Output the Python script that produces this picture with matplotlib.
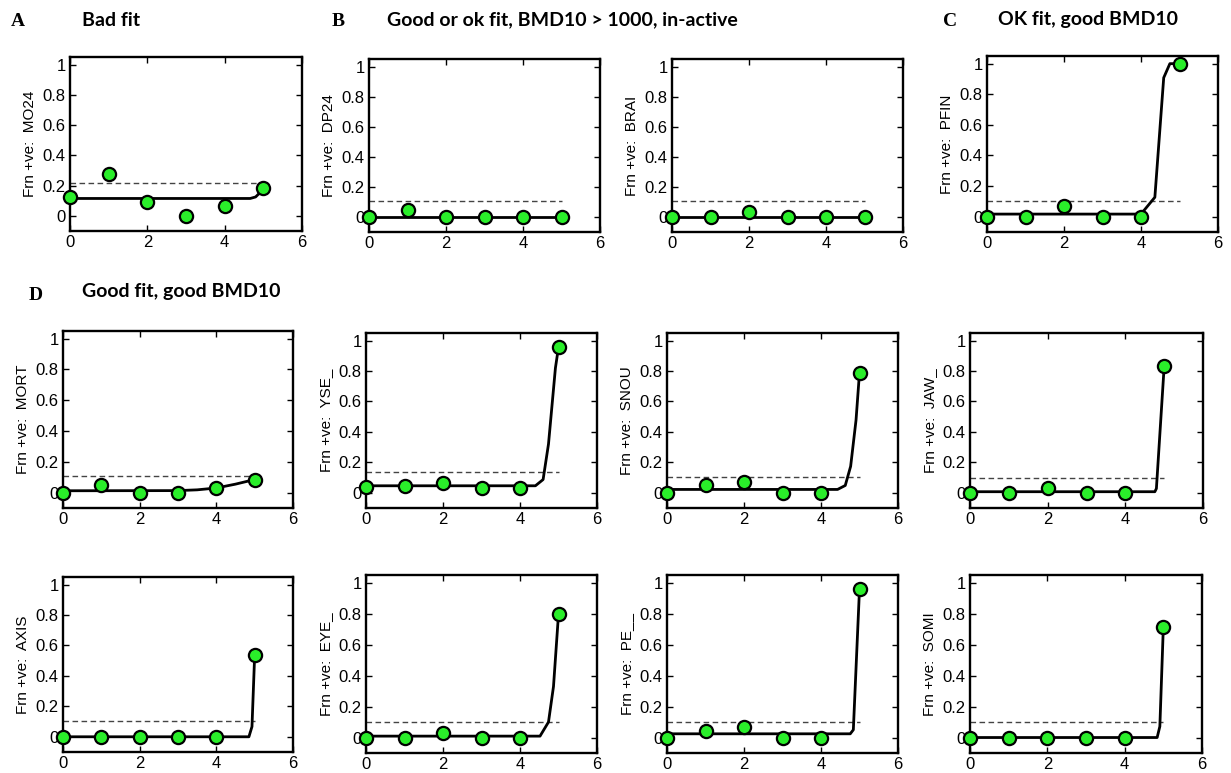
import matplotlib
matplotlib.use('Agg')
import matplotlib.pyplot as plt

# observed doses (x) shared by every panel
doses = [0, 1, 2, 3, 4, 5]

endpoints = ['MO24', 'DP24', 'BRAI', 'PFIN',
             'MORT', 'YSE_', 'SNOU', 'JAW_',
             'AXIS', 'EYE_', 'PE__', 'SOMI']

# fraction positive at each dose
observed = [
    [0.125, 0.28, 0.093, 0.0, 0.063, 0.186],
    [0.0, 0.047, 0.0, 0.0, 0.0, 0.0],
    [0.0, 0.0, 0.034, 0.0, 0.0, 0.0],
    [0.0, 0.0, 0.067, 0.0, 0.0, 1.0],
    [0.0, 0.048, 0.0, 0.0, 0.033, 0.083],
    [0.039, 0.046, 0.067, 0.033, 0.033, 0.957],
    [0.0, 0.048, 0.07, 0.0, 0.0, 0.79],
    [0.0, 0.0, 0.033, 0.0, 0.0, 0.83],
    [0.0, 0.0, 0.0, 0.0, 0.0, 0.538],
    [0.0, 0.0, 0.031, 0.0, 0.0, 0.796],
    [0.0, 0.044, 0.066, 0.0, 0.0, 0.96],
    [0.0, 0.0, 0.0, 0.0, 0.0, 0.713],
]

# fitted dose-response curves (vertices)
fit_x = [
    [0, 4.66, 4.8, 4.9, 5.0],
    [0, 5.0],
    [0, 5.0],
    [0, 4.0, 4.36, 4.59, 4.75, 5.0],
    [0, 3.0, 3.5, 4.0, 4.5, 5.0],
    [0, 4.4, 4.6, 4.74, 4.92, 5.0],
    [0, 4.43, 4.63, 4.77, 4.91, 5.0],
    [0, 4.76, 4.8, 5.0],
    [0, 4.85, 4.93, 5.0],
    [0, 4.52, 4.74, 4.87, 5.0],
    [0, 4.76, 4.84, 5.0],
    [0, 4.84, 4.91, 5.0],
]
fit_y = [
    [0.115, 0.115, 0.125, 0.15, 0.19],
    [0.0, 0.0],
    [0.0, 0.0],
    [0.017, 0.017, 0.127, 0.908, 1.0, 1.0],
    [0.012, 0.013, 0.018, 0.03, 0.055, 0.085],
    [0.046, 0.046, 0.087, 0.32, 0.82, 0.957],
    [0.022, 0.022, 0.048, 0.174, 0.478, 0.79],
    [0.007, 0.007, 0.028, 0.83],
    [0.0, 0.0, 0.067, 0.538],
    [0.009, 0.009, 0.1, 0.33, 0.796],
    [0.024, 0.024, 0.05, 0.96],
    [0.0, 0.0, 0.072, 0.713],
]

# benchmark response level (dashed line)
bmr_level = [0.216, 0.105, 0.103, 0.1, 0.105, 0.135,
             0.104, 0.1, 0.102, 0.103, 0.103, 0.103]

panel_letters = ['A', 'B', 'C', 'D']
panel_titles = ['Bad fit', 'Good or ok fit, BMD10 > 1000, in-active',
                'OK fit, good BMD10', 'Good fit, good BMD10']

W, H = 1231, 773
fig = plt.figure(figsize=(W / 100, H / 100), dpi=100)

# axes boxes in pixels: left, top, right, bottom
boxes = [
    (70, 57, 302, 231), (369, 59, 600, 232), (672, 59, 903, 232), (987, 56, 1218, 232),
    (63, 331, 293, 508), (366, 333, 597, 508), (667, 333, 898, 508), (970, 333, 1203, 508),
    (63, 577, 293, 752), (366, 575, 597, 753), (667, 575, 898, 753), (970, 575, 1202, 753),
]

for i, (l, t, r, b) in enumerate(boxes):
    ax = fig.add_axes([l / W, 1 - b / H, (r - l) / W, (b - t) / H])
    ax.plot([0, 5], [bmr_level[i]] * 2, ls=(0, (4, 2.5)), color='#444444', lw=1.0)
    ax.plot(fit_x[i], fit_y[i], color='black', lw=2.0)
    ax.plot(doses, observed[i], 'o', ms=9.5, mfc='#2aee2a', mec='black', mew=1.6,
            clip_on=False, zorder=3)
    ax.set_xlim(0, 6)
    ax.set_ylim(-0.1, 1.05)
    ax.set_xticks([0, 2, 4, 6])
    ax.set_yticks([0, 0.2, 0.4, 0.6, 0.8, 1])
    ax.set_yticklabels(['0', '0.2', '0.4', '0.6', '0.8', '1'])
    ax.tick_params(direction='in', top=True, right=True, length=4, width=1, pad=3)
    for lab in ax.get_xticklabels() + ax.get_yticklabels():
        lab.set_fontfamily('Liberation Sans')
        lab.set_fontsize(12)
    for sp in ax.spines.values():
        sp.set_linewidth(1.7)
    ax.set_ylabel('Frn +ve:  ' + endpoints[i], fontfamily='Liberation Sans',
                  fontsize=11, labelpad=4)

# panel letters and headings
letter_pos = [(18, 22), (338, 22), (950, 22), (36, 295)]
title_pos = [(82, 20), (387, 20), (998, 20), (82, 292)]
for k in range(4):
    fig.text(letter_pos[k][0] / W, 1 - letter_pos[k][1] / H, panel_letters[k],
             fontfamily='Liberation Serif', fontweight='bold', fontsize=14,
             ha='center', va='center')
    fig.text(title_pos[k][0] / W, 1 - title_pos[k][1] / H, panel_titles[k],
             fontfamily='Lato', fontweight='bold', fontsize=14,
             ha='left', va='center')

fig.savefig('out.png', dpi=100)
